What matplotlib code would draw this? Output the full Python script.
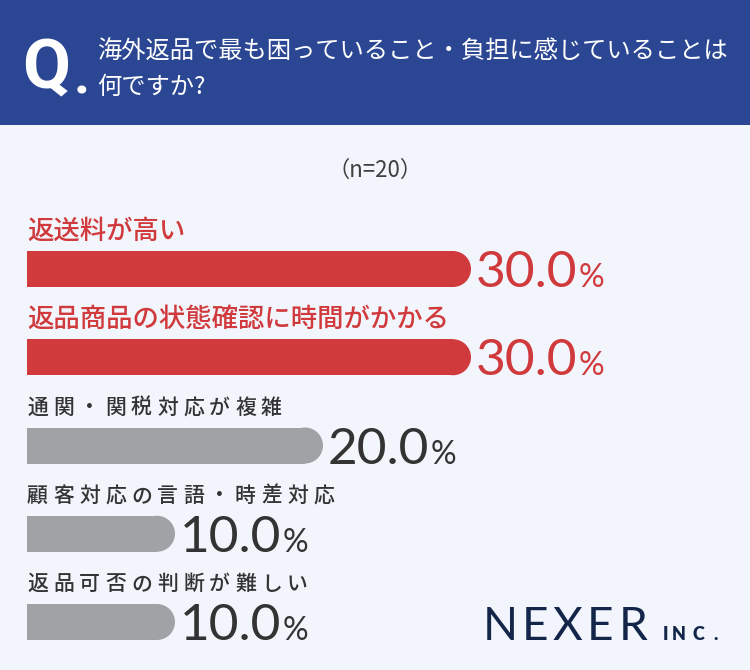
import matplotlib.pyplot as plt
from matplotlib.patches import Rectangle
import numpy as np

# survey data
question = ['海外返品で最も困っていること・負担に感じていることは', '何ですか?']
sample = '（n=20）'
labels = ['返送料が高い',
          '返品商品の状態確認に時間がかかる',
          '通関・関税対応が複雑',
          '顧客対応の言語・時差対応',
          '返品可否の判断が難しい']
values = [30.0, 30.0, 20.0, 10.0, 10.0]
n_top = 2  # highlighted rows

W, H = 750, 670
BG = '#F2F5FC'
NAVY = '#2B4693'
RED = '#D03A3C'
GRAY = '#A0A2A6'
DARK = '#333333'
JP = ['Noto Sans CJK JP', 'DejaVu Sans']

plt.rcParams['font.family'] = JP

fig = plt.figure(figsize=(W / 100, H / 100), dpi=100)
fig.patch.set_facecolor(BG)


def fx(px):
    return px / W


def fy(py):
    return 1 - py / H


# header band
fig.add_artist(Rectangle((0, fy(125)), 1, 125 / H, transform=fig.transFigure,
                         facecolor=NAVY, edgecolor='none', zorder=0))
fig.text(fx(22), fy(88), 'Q', color='white', fontsize=50, fontweight='bold',
         family=['Roboto', 'DejaVu Sans'], va='baseline', ha='left')
fig.text(fx(74), fy(94), '.', color='white', fontsize=40, fontweight='bold',
         family=['Roboto', 'DejaVu Sans'], va='baseline', ha='left')
fig.text(fx(97), fy(52), question[0], color='white', fontsize=17.5, va='center', ha='left')
fig.text(fx(97), fy(87), question[1], color='white', fontsize=17.5, va='center', ha='left')

fig.text(fx(375), fy(170), sample, color='#404040', fontsize=16, va='center', ha='center')

# bar area, axes spans the whole figure
k = 14.8           # pixels per percent
x0 = 27            # left edge of bars (px)
c0, step = 269, 88.25   # first bar centre and row spacing (px)
ax = fig.add_axes([0, 0, 1, 1])
ax.set_axis_off()
ax.patch.set_alpha(0)
ax.set_xlim(-x0 / k, (W - x0) / k)
ax.set_ylim((H - c0) / step, -c0 / step)

idx = np.arange(len(values))
vals = np.array(values)
colors = [RED if i < n_top else GRAY for i in idx]
r = 18 / k
ax.barh(idx, vals - r, height=36 / step, color=colors, left=0, linewidth=0)
ax.scatter(vals - r, idx, s=(36 * 0.72) ** 2, color=colors, marker='o', linewidths=0)

for i, (lab, v) in enumerate(zip(labels, values)):
    ly = i - 38 / step
    if i < n_top:
        ax.text(0, ly, lab, color=RED, fontsize=19, fontweight='medium',
                va='center', ha='left')
        vc = RED
    else:
        # letter-spaced labels
        for j, ch in enumerate(lab):
            ax.text(j * 26 / k, ly, ch, color=DARK, fontsize=15, fontweight='medium',
                    va='center', ha='left')
        vc = DARK
    num = ax.annotate(f'{v:.1f}', xy=(v, i), xytext=(5, -18), textcoords='offset pixels',
                      color=vc, fontsize=37, family=['Lato', 'DejaVu Sans'],
                      va='baseline', ha='left')
    ax.annotate('%', xy=(1, i), xycoords=(num, 'data'), xytext=(1, -18),
                textcoords='offset pixels', color=vc, fontsize=23,
                family=['Lato', 'DejaVu Sans'], va='baseline', ha='left')

# logo
for ch, cx in zip('NEXER', [500, 535, 567, 600, 633]):
    fig.text(fx(cx), fy(640), ch, color='#13264A', fontsize=33,
             family=['Lato', 'DejaVu Sans'], va='baseline', ha='center')
for ch, cx in zip('INC.', [665, 679, 698, 716]):
    fig.text(fx(cx), fy(640), ch, color='#13264A', fontsize=13, fontweight='heavy',
             family=['Lato', 'DejaVu Sans'], va='baseline', ha='center')

fig.savefig('out.png', dpi=100, facecolor=BG)
